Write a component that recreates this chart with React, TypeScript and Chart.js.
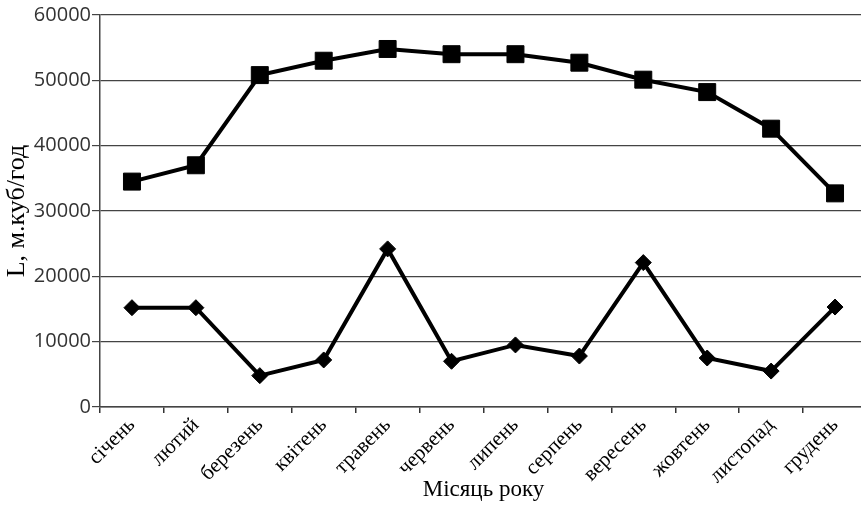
import React, { useEffect, useRef } from "react";
import { Chart, registerables } from "chart.js";

Chart.register(...registerables);

const months = [
  "січень",
  "лютий",
  "березень",
  "квітень",
  "травень",
  "червень",
  "липень",
  "серпень",
  "вересень",
  "жовтень",
  "листопад",
  "грудень",
];

const upperSeries = [34500, 37000, 50800, 53000, 54800, 54000, 54000, 52700, 50100, 48200, 42600, 32700];
const lowerSeries = [15200, 15200, 4800, 7200, 24200, 7000, 9500, 7800, 22100, 7500, 5500, 15300];

const yTicks = [0, 10000, 20000, 30000, 40000, 50000, 60000];

const yTitle = "L, м.куб/год";
const xTitle = "Місяць року";

export default function App() {
  const ref = useRef<HTMLCanvasElement | null>(null);

  useEffect(() => {
    document.body.style.overflow = "hidden";
    const canvas = ref.current;
    if (!canvas) return;
    const chart = new Chart(canvas, {
      type: "line",
      data: {
        labels: months,
        datasets: [
          {
            label: "upper",
            data: upperSeries,
            borderColor: "#000",
            backgroundColor: "#000",
            borderWidth: 4,
            pointStyle: "rect",
            pointRadius: 12,
            pointBorderWidth: 1,
            pointBorderColor: "#000",
            pointBackgroundColor: "#000",
            tension: 0,
          },
          {
            label: "lower",
            data: lowerSeries,
            borderColor: "#000",
            backgroundColor: "#000",
            borderWidth: 4,
            pointStyle: "rectRot",
            pointRadius: 8,
            pointBorderWidth: 1,
            pointBorderColor: "#000",
            pointBackgroundColor: "#000",
            tension: 0,
          },
        ],
      },
      options: {
        animation: false,
        responsive: false,
        maintainAspectRatio: false,
        layout: { padding: { top: 15, right: 12, left: 2, bottom: 0 } },
        plugins: {
          legend: { display: false },
          tooltip: { enabled: false },
        },
        scales: {
          x: {
            type: "category",
            offset: true,
            grid: {
              offset: true,
              drawOnChartArea: false,
              drawTicks: true,
              tickLength: 6,
              color: "#333",
              lineWidth: 1.5,
            },
            border: { display: true, color: "#444", width: 1.5 },
            ticks: {
              minRotation: 45,
              maxRotation: 45,
              autoSkip: false,
              padding: 0,
              color: "#000",
              font: { family: "'Liberation Serif', 'Times New Roman', serif", size: 21 },
            },
            title: {
              display: true,
              text: xTitle,
              color: "#000",
              padding: { top: 0, bottom: 1 },
              font: { family: "'Liberation Serif', 'Times New Roman', serif", size: 23 },
            },
            afterFit: (scale: any) => {
              scale.height = 98;
            },
          },
          y: {
            min: 0,
            max: 60000,
            afterBuildTicks: (scale: any) => {
              scale.ticks = yTicks.map((v) => ({ value: v }));
            },
            grid: {
              color: "#444",
              lineWidth: 1.2,
              drawTicks: true,
              tickLength: 8,
            },
            border: { display: true, color: "#444", width: 1.5 },
            ticks: {
              padding: 1,
              color: "#333",
              font: { family: "'Open Sans', 'Noto Sans', sans-serif", size: 20 },
              callback: (v: any) => String(v),
            },
            title: {
              display: true,
              text: yTitle,
              color: "#000",
              padding: { top: 0, bottom: 0 },
              font: { family: "'Liberation Serif', 'Times New Roman', serif", size: 26 },
            },
            afterFit: (scale: any) => {
              scale.width = 98;
            },
          },
        },
      },
    });
    return () => chart.destroy();
  }, []);

  return (
    <div style={{ position: "fixed", left: 0, top: 0, width: 861, height: 505, overflow: "hidden", background: "#fff" }}>
      <canvas ref={ref} width={880} height={505} style={{ display: "block", width: 880, height: 505 }} />
    </div>
  );
}
